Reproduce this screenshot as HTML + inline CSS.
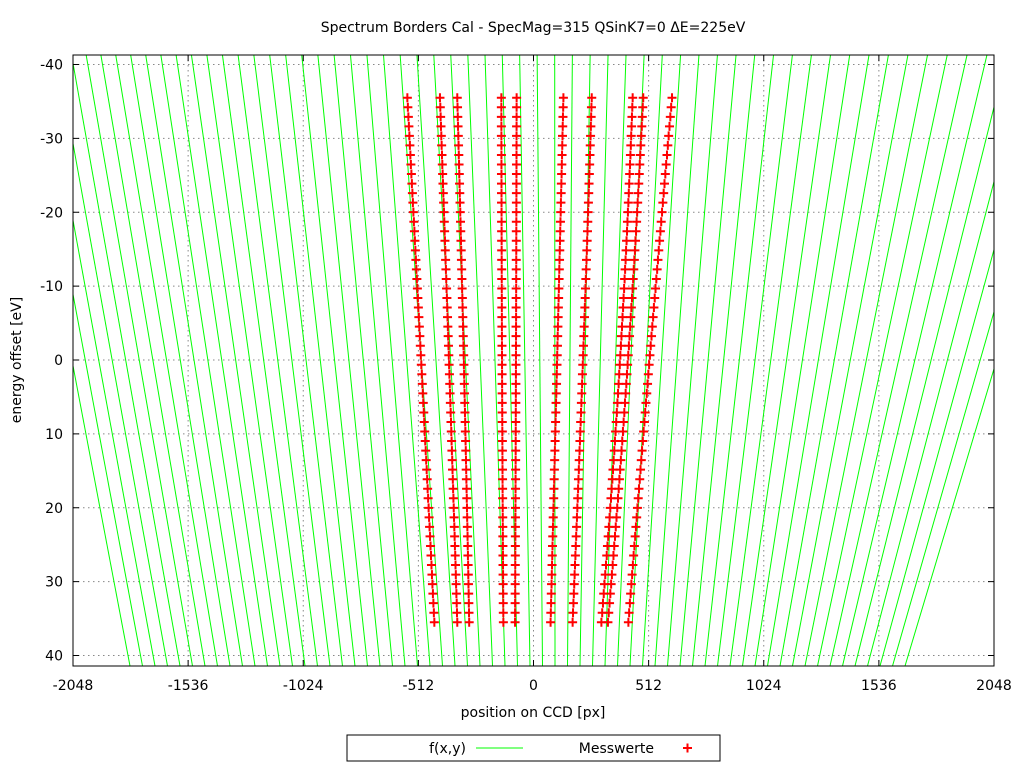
<!DOCTYPE html>
<html><head><meta charset="utf-8"><style>
body{margin:0;background:#fff;width:1024px;height:768px;overflow:hidden}
svg{font-family:"DejaVu Sans","Liberation Sans",sans-serif}
</style></head><body>
<svg id="chart" width="1024" height="768" viewBox="0 0 1024 768" xmlns="http://www.w3.org/2000/svg">
<rect width="1024" height="768" fill="#fff"/>
<text x="533" y="32" font-size="14" text-anchor="middle">Spectrum Borders Cal - SpecMag=315 QSinK7=0 ΔE=225eV</text>
<g id="grid"></g>
<defs><clipPath id="clip"><rect x="73" y="55" width="921" height="611"/></clipPath></defs>
<g id="lines" clip-path="url(#clip)"></g>
<g id="points"></g>
<rect x="73" y="55" width="921" height="611" fill="none" stroke="#000" stroke-width="1"/>
<g id="ticks"></g>
<text x="533" y="717" font-size="14" text-anchor="middle">position on CCD [px]</text>
<text transform="translate(21,360) rotate(-90)" font-size="14" text-anchor="middle">energy offset [eV]</text>
<g>
<rect x="347" y="735" width="373" height="26" fill="#fff" stroke="#000"/>
<text x="466" y="753" font-size="14" text-anchor="end">f(x,y)</text>
<line x1="476" y1="748" x2="523" y2="748" stroke="#00ff00"/>
<text x="654" y="753" font-size="14" text-anchor="end">Messwerte</text>
<path d="M683 748h9M687.5 743.5v9" stroke="#f00" stroke-width="2"/>
</g>
</svg>
<script>
const xTicks=[-2048,-1536,-1024,-512,0,512,1024,1536,2048];
const yTicks=[-40,-30,-20,-10,0,10,20,30,40];
// measured columns: x at top (y=-35.5), middle (y=0), bottom (y=35.5)
const colTop=[-561,-416,-339,-143,-75,133,259,441,488,616];
const colMid=[-500,-376,-310,-140,-78,105,220,385,420,516];
const colBot=[-441,-339,-286,-134,-82,76,174,302,331,422];
const yStart=-35.5, yEnd=35.5, nRows=56;
const NS="http://www.w3.org/2000/svg";
const X0=73,X1=994,Y0=55,Y1=666;
const xs=v=>533.5+v*(921/4096);
const ys=v=>360+v*7.3875;
function mk(tag,attrs,parent){const e=document.createElementNS(NS,tag);for(const k in attrs)e.setAttribute(k,attrs[k]);parent.appendChild(e);return e;}
const grid=document.getElementById('grid'),ticks=document.getElementById('ticks');
xTicks.forEach(t=>{const x=xs(t);
 if(t>-2048&&t<2048){const g=mk('line',{x1:x,y1:Y0,x2:x,y2:Y1,stroke:'#888','stroke-dasharray':'1.5,3.5'},grid);
 
 }
 const a=mk('path',{d:`M${x} ${Y1}v-6M${x} ${Y0}v6`,stroke:'#000'},ticks);
 
 
 const l=mk('text',{x:x,y:690,'font-size':14,'text-anchor':'middle'},ticks);l.textContent=t;
 
 
});
yTicks.forEach(t=>{const y=ys(t);
 const g=mk('line',{x1:X0,y1:y,x2:X1,y2:y,stroke:'#888','stroke-dasharray':'1.5,3.5'},grid);
 
 
 const a=mk('path',{d:`M${X0} ${y}h6M${X1} ${y}h-6`,stroke:'#000'},ticks);
 
 
 const l=mk('text',{x:63,y:y+5,'font-size':14,'text-anchor':'end'},ticks);l.textContent=t;
 
 
});
// fit function family f(x,y): finite set of straight lines; top x is a quadratic of bottom x
const lines=document.getElementById('lines');
const B=[130,541.7,905], T=[14,536,1088];
function topOf(b){let s=0;for(let i=0;i<3;i++){let p=T[i];for(let j=0;j<3;j++)if(j!==i)p*=(b-B[j])/(B[i]-B[j]);s+=p;}return s;}
const nLines=63, bSp=(905-130)/(nLines-1);
for(let k=0;k<nLines;k++){const b=130+k*bSp;const t=topOf(b);
 const e=mk('line',{x1:t,y1:Y0,x2:b,y2:Y1,stroke:'#00ff00','stroke-width':1},lines);
 
 }
const pts=document.getElementById('points');
for(let c=0;c<colTop.length;c++){
 for(let i=0;i<nRows;i++){
  const yv=yStart+(yEnd-yStart)*i/(nRows-1);const s=yv/35.5;
  const xv=colMid[c]+s*(colBot[c]-colTop[c])/2+s*s*((colBot[c]+colTop[c])/2-colMid[c]);
  const x=xs(xv),y=ys(yv);
  const p=mk('path',{d:`M${x-4.5} ${y}h9M${x} ${y-4.5}v9`,stroke:'#f00','stroke-width':2},pts);
  
  
 }}
</script>
</body></html>
